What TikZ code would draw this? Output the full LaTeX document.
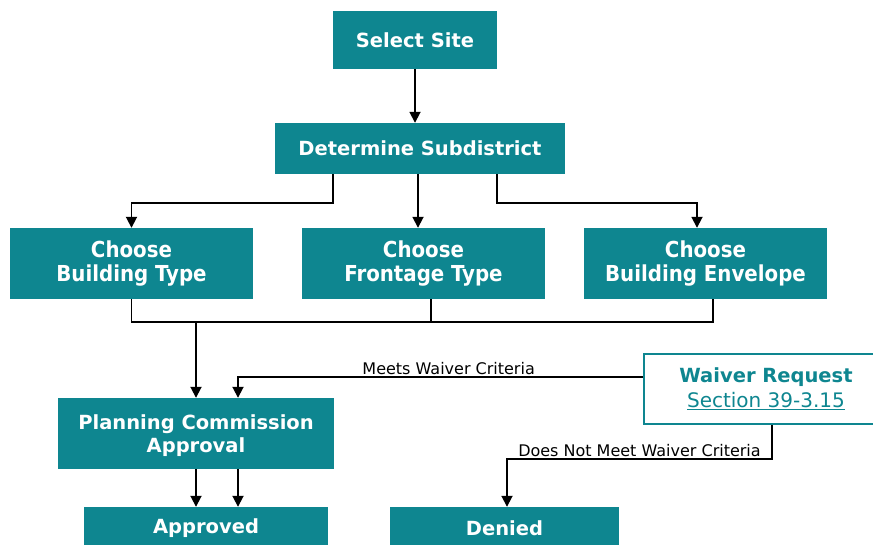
\documentclass[tikz,border=0pt]{standalone}
\usepackage{fontspec}
\setmainfont{DejaVu Sans}
\newfontfamily\condfont{DejaVu Sans Condensed}
\usetikzlibrary{arrows.meta}
\definecolor{teal}{RGB}{14,134,144}

\tikzset{
  stepbox/.style={fill=teal, text=white, align=center, inner sep=0pt,
    font=\fontsize{19.5}{23.5}\selectfont\bfseries},
  choosebox/.style={stepbox, minimum width=243, minimum height=71,
    font=\condfont\fontsize{22}{24}\selectfont\bfseries},
  notebox/.style={draw=teal, line width=1.8pt, fill=white, text=teal, align=center,
    inner sep=0pt, font=\fontsize{19.5}{25}\selectfont},
  lbl/.style={font=\fontsize{16}{18}\selectfont, inner sep=1.5pt},
  conn/.style={line width=1.8pt, >={Triangle[length=11pt,width=11pt]}}
}

\begin{document}
\begin{tikzpicture}[x=1pt, y=-1pt]
  \useasboundingbox (0,0) rectangle (873,544);

  %% boxes
  \node[stepbox, minimum width=164, minimum height=58] (site) at (415,40) {Select Site};
  \node[stepbox, minimum width=290, minimum height=51] (sub) at (420,148.5) {Determine Subdistrict};

  \node[choosebox] (bt) at (131.5,263.5) {Choose\\Building Type};
  \node[choosebox] (ft) at (423.5,263.5) {Choose\\Frontage Type};
  \node[choosebox] (be) at (705.5,263.5) {Choose\\Building Envelope};

  \node[stepbox, minimum width=276, minimum height=71, text depth=0pt] (pca) at (196,433.5) {Planning Commission\\Approval};
  \node[notebox, minimum width=244, minimum height=70] (wr) at (766,389)
    {\textbf{Waiver Request}\\\fontsize{20}{25}\selectfont\underline{Section 39-3.15}};

  \node[stepbox, minimum width=244, minimum height=42] (appr) at (206,528) {Approved};
  \node[stepbox, minimum width=229, minimum height=42] (den) at (504.5,528) {Denied};

  \coordinate (join) at (196,322);

  %% connectors
  \draw[conn, ->] (site.south) -- (site.south |- sub.north); % site -> subdistrict
  \draw[conn, ->] ([xshift=-87]sub.south) -- ++(0,29) -| (bt.north);
  \draw[conn, ->] ([xshift=-2]sub.south) -- ([xshift=-2]sub.south |- ft.north);
  \draw[conn, ->] ([xshift=77]sub.south) -- ++(0,29) -| ([xshift=-8.5]be.north);

  \draw[conn] (bt.south) -- ++(0,23) -| ([xshift=7.5]be.south); % collect the three choices
  \draw[conn] ([xshift=7.5]ft.south) -- ([xshift=7.5]ft.south |- join);
  \draw[conn, ->] (join) -- (join |- pca.north);

  \draw[conn, ->] ([yshift=12]wr.west) -| node[lbl, pos=0.24, above]{Meets Waiver Criteria} ([xshift=42]pca.north);
  \draw[conn, ->] ([xshift=6]wr.south) -- ++(0,34) -| node[lbl, pos=0.25, above]{Does Not Meet Waiver Criteria} ([xshift=2.5]den.north);

  \draw[conn, ->] (pca.south) -- (pca.south |- appr.north); % approval -> approved
  \draw[conn, ->] ([xshift=42]pca.south) -- ([xshift=42]pca.south |- appr.north);
\end{tikzpicture}
\end{document}
